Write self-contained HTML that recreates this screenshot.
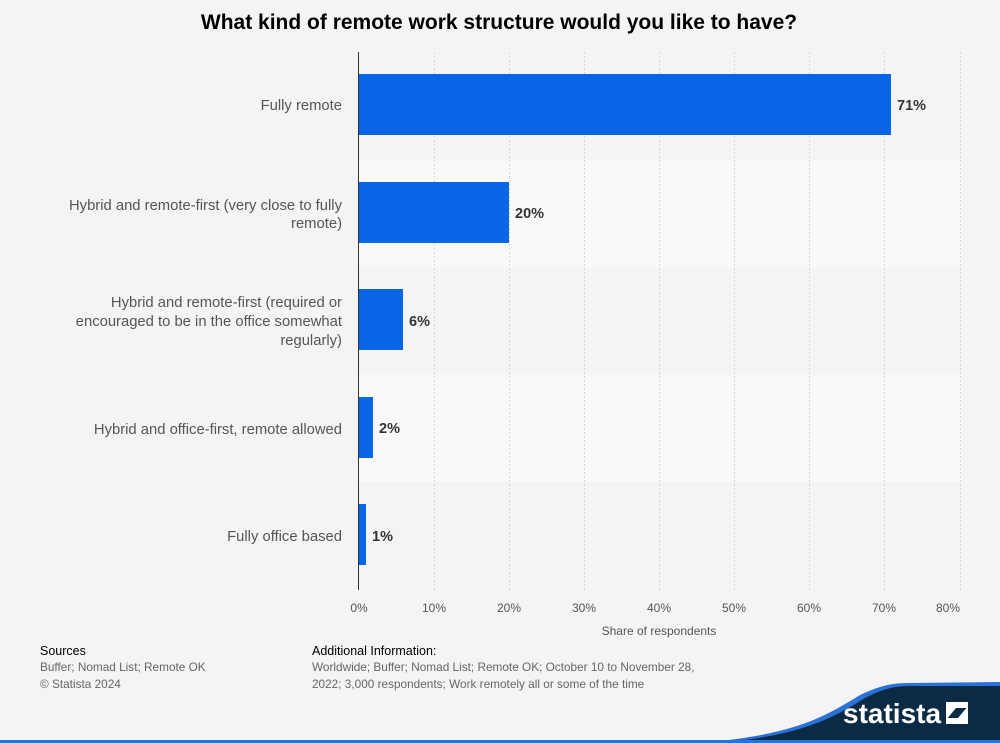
<!DOCTYPE html>
<html><head><style>
body{margin:0;width:1000px;height:743px;background:#f4f4f4;font-family:"Liberation Sans",Arial,sans-serif;overflow:hidden;position:relative}
</style></head><body>
<svg width="1000" height="743" style="position:absolute;left:0;top:0" font-family="Liberation Sans, Arial, sans-serif">
<rect x="0" y="0" width="1000" height="743" fill="#f4f4f4"/>
<rect x="358" y="160" width="603" height="107" fill="#f9f9f9"/>
<rect x="358" y="375" width="603" height="107" fill="#f9f9f9"/>
<g stroke="#d6d6d6" stroke-dasharray="2,2" stroke-width="1">
<line x1="434.5" y1="52" x2="434.5" y2="590"/>
<line x1="509.5" y1="52" x2="509.5" y2="590"/>
<line x1="584.5" y1="52" x2="584.5" y2="590"/>
<line x1="659.5" y1="52" x2="659.5" y2="590"/>
<line x1="734.5" y1="52" x2="734.5" y2="590"/>
<line x1="809.5" y1="52" x2="809.5" y2="590"/>
<line x1="884.5" y1="52" x2="884.5" y2="590"/>
<line x1="960.5" y1="52" x2="960.5" y2="590"/>
</g>
<g fill="#0866e6">
<rect x="359" y="74" width="532" height="61"/>
<rect x="359" y="182" width="150" height="61"/>
<rect x="359" y="289" width="44" height="61"/>
<rect x="359" y="397" width="14" height="61"/>
<rect x="359" y="504" width="7" height="61"/>
</g>
<line x1="358.5" y1="52" x2="358.5" y2="590" stroke="#333" stroke-width="1"/>
<g font-size="14.5" font-weight="bold" fill="#333">
<text x="897" y="110">71%</text>
<text x="515" y="218">20%</text>
<text x="409" y="326">6%</text>
<text x="379" y="433">2%</text>
<text x="372" y="541">1%</text>
</g>
<g font-size="14.8" fill="#555" text-anchor="end">
<text x="342" y="110">Fully remote</text>
<text x="342" y="210">Hybrid and remote-first (very close to fully</text>
<text x="342" y="228">remote)</text>
<text x="342" y="307">Hybrid and remote-first (required or</text>
<text x="342" y="326">encouraged to be in the office somewhat</text>
<text x="342" y="345">regularly)</text>
<text x="342" y="434">Hybrid and office-first, remote allowed</text>
<text x="342" y="541">Fully office based</text>
</g>
<g font-size="12" fill="#555" text-anchor="middle">
<text x="359" y="612">0%</text><text x="434" y="612">10%</text><text x="509" y="612">20%</text>
<text x="584" y="612">30%</text><text x="659" y="612">40%</text><text x="734" y="612">50%</text>
<text x="809" y="612">60%</text><text x="884" y="612">70%</text><text x="948" y="612">80%</text>
<text x="659" y="635">Share of respondents</text>
</g>
<text x="499" y="29" font-size="21" font-weight="bold" fill="#000" text-anchor="middle">What kind of remote work structure would you like to have?</text>
<text x="40" y="655" font-size="12.5" fill="#000">Sources</text>
<text x="40" y="671" font-size="11.8" fill="#666">Buffer; Nomad List; Remote OK</text>
<text x="40" y="688" font-size="11.8" fill="#666">© Statista 2024</text>
<text x="312" y="655" font-size="12.5" fill="#000">Additional Information:</text>
<text x="312" y="671" font-size="11.8" fill="#666">Worldwide; Buffer; Nomad List; Remote OK; October 10 to November 28,</text>
<text x="312" y="688" font-size="11.8" fill="#666">2022; 3,000 respondents; Work remotely all or some of the time</text>
<path d="M700,743 C790,735 820,720 860,695 C880,686 890,683 910,683 L1000,682 L1000,743 Z" fill="#2a72d8"/>
<path d="M720,743 C800,735 830,720 865,698 C883,689 893,686 912,686 L1000,686 L1000,743 Z" fill="#0b2a44"/>
<rect x="0" y="740" width="1000" height="3" fill="#2a72d8"/>
<text x="843" y="723" font-size="28" font-weight="bold" fill="#fff">statista</text>
<path d="M946,702 h22 v6 h-12 l-10,12 z M968,724 h-22 v-6 h12 l10,-12 z" fill="#fff"/>
</svg>
</body></html>
